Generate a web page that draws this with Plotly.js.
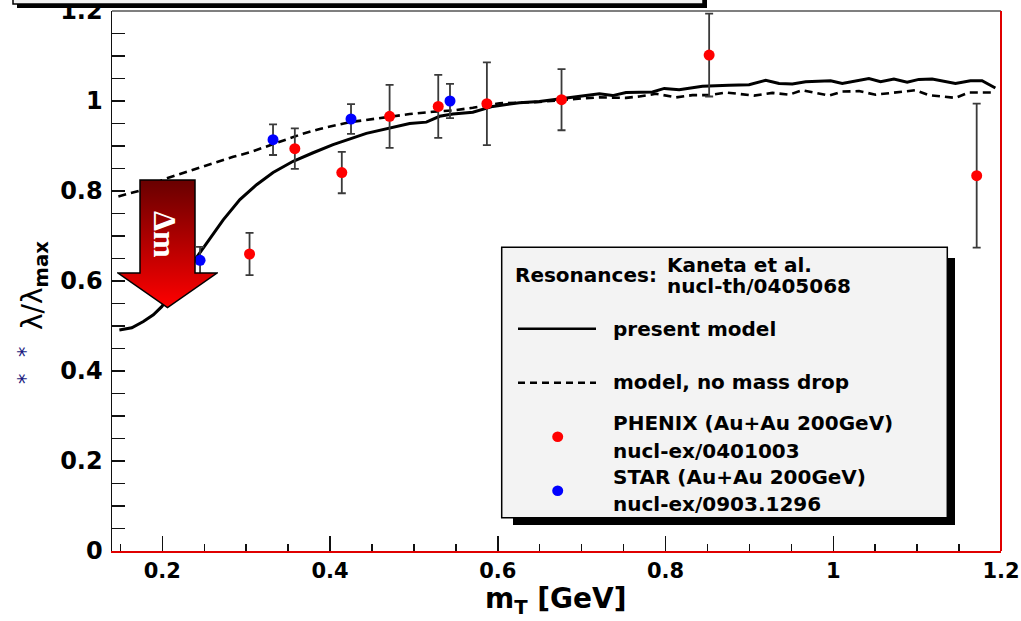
<!DOCTYPE html>
<html>
<head>
<meta charset="utf-8">
<script src="https://cdn.plot.ly/plotly-3.0.1.min.js"></script>
<style>
  html, body { margin: 0; padding: 0; background: #ffffff; }
  #chart { width: 1021px; height: 621px; }
</style>
</head>
<body>
<div id="chart"></div>
<script>
// ---------------- data ----------------
const phenixX   = [0.304, 0.358, 0.414, 0.471, 0.529, 0.587, 0.676, 0.852, 1.171];
const phenixY   = [0.660, 0.894, 0.841, 0.966, 0.988, 0.994, 1.003, 1.102, 0.834];
const phenixErr = [0.047, 0.045, 0.046, 0.070, 0.070, 0.092, 0.068, 0.092, 0.160];

const starX   = [0.245, 0.332, 0.425, 0.543];
const starY   = [0.646, 0.914, 0.960, 1.000];
const starErr = [0.030, 0.034, 0.033, 0.038];

const modelX = [0.1488,0.1636,0.1774,0.1893,0.1993,0.2449,0.2568,0.2726,0.2925,0.3124,0.3321,0.3560,0.3798,0.4036,0.4433,0.4949,0.5148,0.5306,0.5464,0.5702,0.5940,0.6258,0.6496,0.6774,0.7052,0.7211,0.7369,0.7529,0.7845,0.7985,0.8163,0.8440,0.8758,0.8996,0.9195,0.9354,0.9512,0.9671,0.9969,1.0107,1.0425,1.0564,1.0723,1.0881,1.1020,1.1179,1.1457,1.1636,1.1774,1.1933];
const modelY = [0.491,0.496,0.510,0.525,0.543,0.662,0.695,0.736,0.781,0.814,0.841,0.866,0.885,0.903,0.928,0.950,0.953,0.966,0.971,0.975,0.988,0.996,0.999,1.005,1.012,1.016,1.012,1.019,1.020,1.028,1.025,1.033,1.035,1.036,1.046,1.039,1.038,1.043,1.045,1.039,1.050,1.043,1.049,1.042,1.048,1.049,1.039,1.045,1.045,1.029];

const noDropX = [0.1476,0.1636,0.1735,0.2032,0.2250,0.2449,0.2648,0.2845,0.3044,0.3639,0.3877,0.4234,0.4710,0.4949,0.5226,0.5464,0.5702,0.6020,0.6496,0.6774,0.7012,0.7211,0.7529,0.7687,0.7886,0.8124,0.8321,0.8520,0.8719,0.9056,0.9274,0.9473,0.9631,0.9949,1.0107,1.0306,1.0505,1.0981,1.1139,1.1457,1.1615,1.1933];
const noDropY = [0.788,0.797,0.801,0.827,0.840,0.851,0.864,0.876,0.886,0.925,0.938,0.953,0.965,0.971,0.976,0.979,0.985,0.995,0.998,1.003,1.006,1.008,1.007,1.010,1.016,1.008,1.013,1.013,1.019,1.012,1.018,1.014,1.024,1.012,1.021,1.022,1.014,1.024,1.013,1.007,1.019,1.019];

const xTickLabels = ['0.2', '0.4', '0.6', '0.8', '1', '1.2'];
const yTickLabels = ['0', '0.2', '0.4', '0.6', '0.8', '1', '1.2'];

const legendHeader = ['Resonances:', 'Kaneta et al.', 'nucl-th/0405068'];
const legendLabels = ['present model', 'model, no mass drop',
                      'PHENIX (Au+Au 200GeV)', 'nucl-ex/0401003',
                      'STAR (Au+Au 200GeV)', 'nucl-ex/0903.1296'];

// ---------------- layout helpers ----------------
const L = 112, T = 11, W = 889, H = 540;
const px = x => (x - L) / W;
const py = y => (T + H - y) / H;
const SANS = 'DejaVu Sans';

const traces = [
  { x: modelX, y: modelY, type: 'scatter', mode: 'lines',
    line: { color: '#000', width: 3 }, hoverinfo: 'skip' },
  { x: noDropX, y: noDropY, type: 'scatter', mode: 'lines',
    line: { color: '#000', width: 2.6, dash: '8px,5px' }, hoverinfo: 'skip' },
  { x: phenixX, y: phenixY, type: 'scatter', mode: 'markers',
    marker: { color: '#ff0000', size: 11, line: { width: 0 } },
    error_y: { type: 'data', array: phenixErr, visible: true, color: '#3a3a3a', thickness: 1.8, width: 4 } },
  { x: starX, y: starY, type: 'scatter', mode: 'markers',
    marker: { color: '#0000ff', size: 11, line: { width: 0 } },
    error_y: { type: 'data', array: starErr, visible: true, color: '#3a3a3a', thickness: 1.8, width: 4 } }
];

// arrow graphic (decoration)
const arrowSvg = "<svg xmlns='http://www.w3.org/2000/svg' width='101' height='131' viewBox='0 0 101 131'>" +
  "<defs><linearGradient id='g' x1='0' y1='0' x2='0' y2='1'>" +
  "<stop offset='0' stop-color='#680000'/><stop offset='1' stop-color='#ff0000'/></linearGradient></defs>" +
  "<polygon points='23,2 78,2 78,95 100,95 50.5,129.5 1,95 23,95' fill='url(#g)' stroke='#000' stroke-width='1.5'/></svg>";

const shapes = [
  // top cut-off box with shadow
  { type: 'rect', xref: 'paper', yref: 'paper', x0: px(17), x1: px(707), y0: py(8), y1: py(-30),
    fillcolor: '#000', line: { width: 0 } },
  { type: 'rect', xref: 'paper', yref: 'paper', x0: px(13), x1: px(703), y0: py(4), y1: py(-30),
    fillcolor: '#f2f2f2', line: { color: '#000', width: 1.5 } },
  // frame: top grey, right red
  { type: 'line', xref: 'paper', yref: 'paper', x0: 0, x1: 1, y0: 1, y1: 1,
    line: { color: '#555', width: 1.5 } },
  { type: 'line', xref: 'paper', yref: 'paper', x0: 1, x1: 1, y0: 0, y1: 1,
    line: { color: '#e00000', width: 2 } },
  // legend shadow + box
  { type: 'rect', xref: 'paper', yref: 'paper', x0: px(513), x1: px(955), y0: py(525), y1: py(258),
    fillcolor: '#000', line: { width: 0 } },
  { type: 'rect', xref: 'paper', yref: 'paper', x0: px(501.7), x1: px(947.3), y0: py(517.7), y1: py(247.3),
    fillcolor: '#f3f3f3', line: { color: '#000', width: 1.5 } },
  // legend samples
  { type: 'line', xref: 'paper', yref: 'paper', x0: px(518), x1: px(596), y0: py(328.7), y1: py(328.7),
    line: { color: '#000', width: 2.5 } },
  { type: 'line', xref: 'paper', yref: 'paper', x0: px(518), x1: px(596), y0: py(382.7), y1: py(382.7),
    line: { color: '#000', width: 2.5, dash: '7px,5px' } },
  { type: 'circle', xref: 'paper', yref: 'paper', x0: px(552.2), x1: px(563.2), y0: py(442), y1: py(431.5),
    fillcolor: '#ff0000', line: { width: 0 } },
  { type: 'circle', xref: 'paper', yref: 'paper', x0: px(552.2), x1: px(563.2), y0: py(496), y1: py(485.5),
    fillcolor: '#0000ff', line: { width: 0 } }
];

function txt(text, xpx, ypx, opts) {
  return Object.assign({
    text: text, xref: 'paper', yref: 'paper', x: px(xpx), y: py(ypx),
    xanchor: 'left', yanchor: 'middle', showarrow: false,
    font: { family: SANS, size: 20, color: '#000', weight: 'bold' }
  }, opts || {});
}

const annotations = [
  txt(legendHeader[0], 513, 274.5),
  txt(legendHeader[1], 665, 265),
  txt(legendHeader[2], 665, 286),
  txt(legendLabels[0], 611, 328.5),
  txt(legendLabels[1], 611, 381.7),
  txt(legendLabels[2], 611, 423.3),
  txt(legendLabels[3], 611, 450.7),
  txt(legendLabels[4], 611, 477.3),
  txt(legendLabels[5], 611, 504.3),
  // arrow label
  txt('Δm', 165, 234, { xanchor: 'center', textangle: 90,
    font: { family: 'Liberation Serif', size: 32, color: '#ffffff', weight: 'bold' } }),
  // x axis title
  txt('m<sub>T</sub> [GeV]', 556, 600, { xanchor: 'center',
    font: { family: SANS, size: 28, color: '#000', weight: 'bold' } }),
  // y axis title
  txt('λ/λ<sub><b>max</b></sub>', 34, 286, { xanchor: 'center', textangle: -90,
    font: { family: SANS, size: 28, color: '#000', weight: 'normal' } }),
  txt('*', 26, 352, { xanchor: 'center', textangle: -90,
    font: { family: SANS, size: 21, color: '#1a1a80', weight: 'normal' } }),
  txt('*', 26, 379, { xanchor: 'center', textangle: -90,
    font: { family: SANS, size: 21, color: '#1a1a80', weight: 'normal' } })
];

const layout = {
  width: 1021, height: 621,
  margin: { l: L, r: 1021 - L - W, t: T, b: 621 - T - H },
  paper_bgcolor: '#fff', plot_bgcolor: '#fff',
  showlegend: false,
  xaxis: {
    range: [0.14, 1.2], showgrid: false, zeroline: false,
    showline: true, linecolor: '#e00000', linewidth: 2,
    tickmode: 'array', tickvals: xTickLabels.map(Number), ticktext: xTickLabels,
    ticks: 'inside', ticklen: 15, tickwidth: 1.5, tickcolor: '#111',
    minor: { dtick: 0.05, tick0: 0, ticks: 'inside', ticklen: 7.5, tickwidth: 1.5, tickcolor: '#111' },
    ticklabelstandoff: 0, ticklabeloverflow: 'allow',
    tickfont: { family: SANS, size: 21, color: '#000', weight: 'bold' },
    fixedrange: true
  },
  yaxis: {
    range: [0, 1.2], showgrid: false, zeroline: false,
    showline: true, linecolor: '#111', linewidth: 1.5,
    tickmode: 'array', tickvals: yTickLabels.map(Number), ticktext: yTickLabels,
    ticks: 'inside', ticklen: 13, tickwidth: 1.5, tickcolor: '#111',
    minor: { dtick: 0.05, tick0: 0, ticks: 'inside', ticklen: 13, tickwidth: 1.5, tickcolor: '#111' },
    ticklabelstandoff: 3, ticklabeloverflow: 'allow',
    tickfont: { family: SANS, size: 24, color: '#000', weight: 'bold' },
    fixedrange: true
  },
  shapes: shapes,
  annotations: annotations,
  images: [{
    source: 'data:image/svg+xml;base64,' + btoa(arrowSvg),
    xref: 'paper', yref: 'paper', x: px(117), y: py(178),
    sizex: 101 / W, sizey: 131 / H, xanchor: 'left', yanchor: 'top',
    sizing: 'stretch', layer: 'above'
  }]
};

Plotly.newPlot('chart', traces, layout, { displayModeBar: false, staticPlot: true });
</script>
</body>
</html>
